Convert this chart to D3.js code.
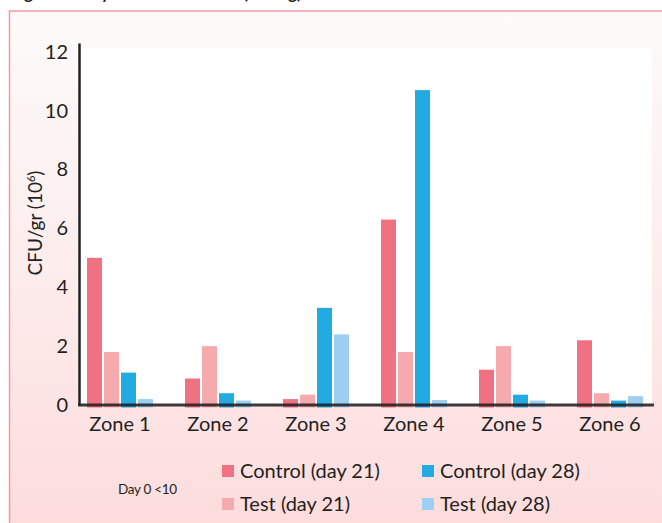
<!DOCTYPE html>
<html>
<head>
<meta charset="utf-8">
<script src="https://cdn.jsdelivr.net/npm/d3@7"></script>
<style>
  html, body { margin: 0; padding: 0; background: #ffffff; }
  svg { display: block; font-family: Lato, "Open Sans", sans-serif; }
</style>
</head>
<body>
<svg id="chart" width="662" height="523"></svg>
<script>
// ---- data ----
const zones = ["Zone 1", "Zone 2", "Zone 3", "Zone 4", "Zone 5", "Zone 6"];
const seriesNames = ["Control (day 21)", "Test (day 21)", "Control (day 28)", "Test (day 28)"];
const controlDay21 = [5.0, 0.9, 0.2, 6.3, 1.2, 2.2];
const testDay21    = [1.8, 2.0, 0.35, 1.8, 2.0, 0.4];
const controlDay28 = [1.1, 0.4, 3.3, 10.7, 0.35, 0.15];
const testDay28    = [0.2, 0.15, 2.4, 0.17, 0.15, 0.3];
const yTicks = [0, 2, 4, 6, 8, 10, 12];
const seriesColors = ["#f07282", "#f7aaae", "#22aae2", "#9ccff0"];
const yTitle = "CFU/gr (10";
const yTitleSup = "6";
const noteText = "Day 0 <10";
const titleText = "Figure 3. Day 28 bacterial load (CFU/g)";

const seriesValues = [controlDay21, testDay21, controlDay28, testDay28];

const svg = d3.select("#chart");
const ink = "#231f20";

// ---- background card ----
const defs = svg.append("defs");
const grad = defs.append("linearGradient").attr("id", "bg").attr("x1", 0).attr("y1", 0).attr("x2", 0).attr("y2", 1);
grad.append("stop").attr("offset", "0%").attr("stop-color", "#fdfbfb");
grad.append("stop").attr("offset", "45%").attr("stop-color", "#fdeeee");
grad.append("stop").attr("offset", "100%").attr("stop-color", "#fddcdc");

// title (cut off by the top edge, as in the reference)
svg.append("text").attr("x", 10).attr("y", -1.5)
  .attr("font-size", 17).attr("font-weight", 700).attr("fill", ink)
  .text(titleText);

svg.append("rect").attr("x", 9.5).attr("y", 11).attr("width", 662).attr("height", 520)
  .attr("fill", "url(#bg)").attr("stroke", "#f19aa5").attr("stroke-width", 1.5);

// ---- scales ----
const x0 = d3.scaleBand().domain(zones).range([71, 659]).paddingInner(0.327).paddingOuter(0.1635);
const x1 = d3.scaleBand().domain(d3.range(seriesNames.length)).range([0, x0.bandwidth()]).paddingInner(0.118).paddingOuter(0);
const y = d3.scaleLinear().domain([0, 12.3]).range([405, 43]);

// plot area (white)
svg.append("rect").attr("x", 78).attr("y", 48).attr("width", 574).attr("height", y(0) - 48).attr("fill", "#ffffff");

// ---- bars ----
const groups = svg.append("g").selectAll("g").data(zones).join("g")
  .attr("transform", d => `translate(${x0(d)},0)`);
groups.selectAll("rect")
  .data((z, i) => seriesValues.map((vals, s) => ({ s, v: vals[i] })))
  .join("rect")
  .attr("x", d => x1(d.s))
  .attr("width", x1.bandwidth())
  .attr("y", d => y(d.v))
  .attr("height", d => y(0) - y(d.v) + 2.5)
  .attr("fill", d => seriesColors[d.s]);

// ---- y axis ----
const yAxis = svg.append("g").attr("transform", "translate(79,0)")
  .call(d3.axisLeft(y).tickValues(yTicks).tickSize(0).tickSizeOuter(0).tickPadding(11).tickFormat(d3.format("d")));
yAxis.select(".domain").attr("stroke", ink).attr("stroke-width", 2.5);
yAxis.selectAll("text").attr("font-size", 20).attr("fill", ink).attr("font-family", "Lato, sans-serif");

// ---- x axis ----
const xAxis = svg.append("g").attr("transform", `translate(0,${y(0)})`)
  .call(d3.axisBottom(x0).tickSize(0).tickSizeOuter(0).tickPadding(12));
xAxis.select(".domain").remove();
xAxis.selectAll("text").attr("font-size", 20).attr("fill", ink).attr("font-family", "Lato, sans-serif");
svg.append("line").attr("x1", 78).attr("x2", 654).attr("y1", y(0)).attr("y2", y(0))
  .attr("stroke", ink).attr("stroke-width", 3).attr("stroke-opacity", 0.88);

// ---- y title ----
const yt = svg.append("text")
  .attr("transform", `translate(42,223) rotate(-90)`)
  .attr("text-anchor", "middle").attr("font-size", 19).attr("fill", ink);
yt.append("tspan").text(yTitle);
yt.append("tspan").attr("font-size", 11).attr("dy", -7).text(yTitleSup);
yt.append("tspan").attr("dy", 7).text(")");

// ---- note ----
svg.append("text").attr("x", 118).attr("y", 494).attr("font-size", 13.5).attr("fill", ink)
  .attr("letter-spacing", -0.3).text(noteText);

// ---- legend ----
const legendPos = [[222, 0], [222, 1], [422, 0], [422, 1]];
const leg = svg.append("g").selectAll("g").data(seriesNames).join("g")
  .attr("transform", (d, i) => `translate(${legendPos[i][0]},${465 + legendPos[i][1] * 33})`);
leg.append("rect").attr("width", 12).attr("height", 12).attr("fill", (d, i) => seriesColors[i]);
leg.append("text").attr("x", 18).attr("y", 13).attr("font-size", 20).attr("fill", ink).text(d => d);
</script>
</body>
</html>
